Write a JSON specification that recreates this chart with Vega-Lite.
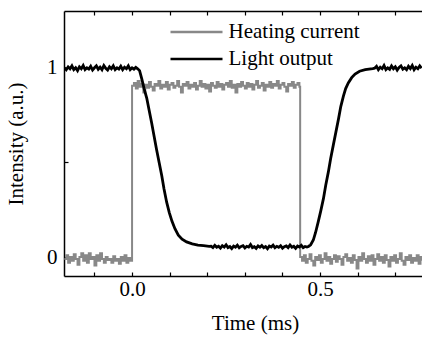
{
  "$schema": "https://vega.github.io/schema/vega-lite/v6.json",
  "autosize": {"type": "none"},
  "padding": {"left": 64, "top": 11, "right": 0, "bottom": 63},
  "width": 358,
  "height": 265,
  "background": "white",
  "config": {"view": {"stroke": null}, "font": "Liberation Serif"},
  "datasets": {
    "heat": [
      {"t":-0.18,"v":-0.01},{"t":-0.175,"v":0.01},{"t":-0.17,"v":-0.03},{"t":-0.165,"v":0.0},{"t":-0.16,"v":-0.02},{"t":-0.155,"v":0.015},{"t":-0.15,"v":-0.01},{"t":-0.145,"v":-0.04},{"t":-0.14,"v":0.0},{"t":-0.135,"v":0.02},{"t":-0.13,"v":-0.02},{"t":-0.125,"v":0.01},{"t":-0.12,"v":-0.03},{"t":-0.115,"v":0.02},{"t":-0.11,"v":-0.01},{"t":-0.105,"v":0.0},{"t":-0.1,"v":-0.045},{"t":-0.095,"v":0.01},{"t":-0.09,"v":-0.02},{"t":-0.085,"v":0.02},{"t":-0.08,"v":-0.01},{"t":-0.075,"v":-0.03},{"t":-0.07,"v":0.0},{"t":-0.065,"v":-0.015},{"t":-0.06,"v":-0.01},{"t":-0.055,"v":-0.03},{"t":-0.05,"v":0.005},{"t":-0.045,"v":-0.02},{"t":-0.04,"v":-0.01},{"t":-0.035,"v":-0.035},{"t":-0.03,"v":0.0},{"t":-0.025,"v":-0.02},{"t":-0.02,"v":0.01},{"t":-0.015,"v":-0.03},{"t":-0.01,"v":-0.005},{"t":-0.005,"v":-0.02},
      {"t":0.0,"v":0.905},{"t":0.005,"v":0.92},{"t":0.01,"v":0.89},{"t":0.015,"v":0.93},{"t":0.02,"v":0.9},{"t":0.025,"v":0.915},{"t":0.03,"v":0.87},{"t":0.035,"v":0.91},{"t":0.04,"v":0.895},{"t":0.045,"v":0.925},{"t":0.05,"v":0.9},{"t":0.055,"v":0.88},{"t":0.06,"v":0.915},{"t":0.065,"v":0.905},{"t":0.07,"v":0.93},{"t":0.075,"v":0.89},{"t":0.08,"v":0.91},{"t":0.085,"v":0.9},{"t":0.09,"v":0.925},{"t":0.095,"v":0.885},{"t":0.1,"v":0.91},{"t":0.105,"v":0.92},{"t":0.11,"v":0.895},{"t":0.115,"v":0.905},{"t":0.12,"v":0.93},{"t":0.125,"v":0.9},{"t":0.13,"v":0.87},{"t":0.135,"v":0.915},{"t":0.14,"v":0.905},{"t":0.145,"v":0.925},{"t":0.15,"v":0.89},{"t":0.155,"v":0.91},{"t":0.16,"v":0.9},{"t":0.165,"v":0.92},{"t":0.17,"v":0.885},{"t":0.175,"v":0.905},{"t":0.18,"v":0.93},{"t":0.185,"v":0.9},{"t":0.19,"v":0.915},{"t":0.195,"v":0.89},{"t":0.2,"v":0.91},{"t":0.205,"v":0.875},{"t":0.21,"v":0.92},{"t":0.215,"v":0.905},{"t":0.22,"v":0.895},{"t":0.225,"v":0.925},{"t":0.23,"v":0.9},{"t":0.235,"v":0.915},{"t":0.24,"v":0.885},{"t":0.245,"v":0.91},{"t":0.25,"v":0.92},{"t":0.255,"v":0.9},{"t":0.26,"v":0.93},{"t":0.265,"v":0.895},{"t":0.27,"v":0.91},{"t":0.275,"v":0.87},{"t":0.28,"v":0.915},{"t":0.285,"v":0.9},{"t":0.29,"v":0.925},{"t":0.295,"v":0.905},{"t":0.3,"v":0.89},{"t":0.305,"v":0.92},{"t":0.31,"v":0.9},{"t":0.315,"v":0.915},{"t":0.32,"v":0.885},{"t":0.325,"v":0.91},{"t":0.33,"v":0.93},{"t":0.335,"v":0.895},{"t":0.34,"v":0.905},{"t":0.345,"v":0.92},{"t":0.35,"v":0.88},{"t":0.355,"v":0.91},{"t":0.36,"v":0.9},{"t":0.365,"v":0.925},{"t":0.37,"v":0.895},{"t":0.375,"v":0.915},{"t":0.38,"v":0.905},{"t":0.385,"v":0.93},{"t":0.39,"v":0.89},{"t":0.395,"v":0.91},{"t":0.4,"v":0.92},{"t":0.405,"v":0.9},{"t":0.41,"v":0.875},{"t":0.415,"v":0.915},{"t":0.42,"v":0.905},{"t":0.425,"v":0.925},{"t":0.43,"v":0.895},{"t":0.435,"v":0.91},{"t":0.44,"v":0.92},{"t":0.445,"v":0.9},
      {"t":0.447,"v":0.0},{"t":0.452,"v":-0.02},{"t":0.457,"v":0.01},{"t":0.462,"v":-0.03},{"t":0.467,"v":-0.01},{"t":0.472,"v":0.015},{"t":0.477,"v":-0.02},{"t":0.482,"v":-0.045},{"t":0.487,"v":0.0},{"t":0.492,"v":-0.015},{"t":0.497,"v":0.01},{"t":0.502,"v":-0.03},{"t":0.507,"v":-0.01},{"t":0.512,"v":0.02},{"t":0.517,"v":-0.02},{"t":0.522,"v":0.0},{"t":0.527,"v":-0.035},{"t":0.532,"v":-0.01},{"t":0.537,"v":0.01},{"t":0.542,"v":-0.025},{"t":0.547,"v":0.005},{"t":0.552,"v":-0.01},{"t":0.557,"v":-0.04},{"t":0.562,"v":0.0},{"t":0.567,"v":0.015},{"t":0.572,"v":-0.02},{"t":0.577,"v":-0.005},{"t":0.582,"v":-0.03},{"t":0.587,"v":0.01},{"t":0.592,"v":-0.015},{"t":0.597,"v":-0.06},{"t":0.602,"v":0.0},{"t":0.607,"v":-0.02},{"t":0.612,"v":0.02},{"t":0.617,"v":-0.01},{"t":0.622,"v":-0.03},{"t":0.627,"v":0.005},{"t":0.632,"v":-0.02},{"t":0.637,"v":0.01},{"t":0.642,"v":-0.04},{"t":0.647,"v":-0.01},{"t":0.652,"v":0.015},{"t":0.657,"v":-0.02},{"t":0.662,"v":0.0},{"t":0.667,"v":-0.03},{"t":0.672,"v":0.01},{"t":0.677,"v":-0.015},{"t":0.682,"v":-0.05},{"t":0.687,"v":0.0},{"t":0.692,"v":-0.02},{"t":0.697,"v":0.01},{"t":0.702,"v":-0.03},{"t":0.707,"v":-0.01},{"t":0.712,"v":0.02},{"t":0.717,"v":-0.02},{"t":0.722,"v":-0.04},{"t":0.727,"v":0.0},{"t":0.732,"v":-0.015},{"t":0.737,"v":0.01},{"t":0.742,"v":-0.03},{"t":0.747,"v":-0.005},{"t":0.752,"v":-0.02},{"t":0.757,"v":0.01},{"t":0.762,"v":-0.035},{"t":0.767,"v":0.0},{"t":0.772,"v":-0.02}
    ],
    "light": [
      {"t":-0.18,"v":1.0},{"t":-0.175,"v":0.99},{"t":-0.17,"v":1.005},{"t":-0.165,"v":0.995},{"t":-0.16,"v":1.01},{"t":-0.155,"v":0.99},{"t":-0.15,"v":1.0},{"t":-0.145,"v":0.985},{"t":-0.14,"v":1.005},{"t":-0.135,"v":0.995},{"t":-0.13,"v":1.012},{"t":-0.125,"v":0.99},{"t":-0.12,"v":1.0},{"t":-0.115,"v":0.993},{"t":-0.11,"v":1.008},{"t":-0.105,"v":0.988},{"t":-0.1,"v":1.0},{"t":-0.095,"v":1.01},{"t":-0.09,"v":0.992},{"t":-0.085,"v":1.003},{"t":-0.08,"v":0.99},{"t":-0.075,"v":1.012},{"t":-0.07,"v":0.997},{"t":-0.065,"v":0.988},{"t":-0.06,"v":1.005},{"t":-0.055,"v":0.995},{"t":-0.05,"v":1.01},{"t":-0.045,"v":0.99},{"t":-0.04,"v":1.0},{"t":-0.035,"v":0.993},{"t":-0.03,"v":1.008},{"t":-0.025,"v":0.99},{"t":-0.02,"v":1.003},{"t":-0.015,"v":0.995},{"t":-0.01,"v":1.01},{"t":-0.005,"v":0.99},{"t":0.0,"v":1.0},{"t":0.005,"v":0.993},{"t":0.01,"v":1.002},
      {"t":0.015,"v":0.995},{"t":0.02,"v":0.985},{"t":0.026,"v":0.94},{"t":0.032,"v":0.89},{"t":0.039,"v":0.84},{"t":0.045,"v":0.78},{"t":0.052,"v":0.71},{"t":0.058,"v":0.645},{"t":0.065,"v":0.57},{"t":0.072,"v":0.5},{"t":0.079,"v":0.43},{"t":0.085,"v":0.36},{"t":0.092,"v":0.29},{"t":0.099,"v":0.235},{"t":0.106,"v":0.19},{"t":0.114,"v":0.15},{"t":0.123,"v":0.116},{"t":0.133,"v":0.095},{"t":0.145,"v":0.08},{"t":0.16,"v":0.07},{"t":0.175,"v":0.063},{"t":0.19,"v":0.06},{"t":0.205,"v":0.057},
      {"t":0.21,"v":0.058},{"t":0.215,"v":0.05},{"t":0.22,"v":0.062},{"t":0.225,"v":0.052},{"t":0.23,"v":0.057},{"t":0.235,"v":0.047},{"t":0.24,"v":0.06},{"t":0.245,"v":0.053},{"t":0.25,"v":0.065},{"t":0.255,"v":0.05},{"t":0.26,"v":0.056},{"t":0.265,"v":0.045},{"t":0.27,"v":0.058},{"t":0.275,"v":0.052},{"t":0.28,"v":0.063},{"t":0.285,"v":0.049},{"t":0.29,"v":0.056},{"t":0.295,"v":0.06},{"t":0.3,"v":0.048},{"t":0.305,"v":0.057},{"t":0.31,"v":0.053},{"t":0.315,"v":0.066},{"t":0.32,"v":0.05},{"t":0.325,"v":0.055},{"t":0.33,"v":0.046},{"t":0.335,"v":0.059},{"t":0.34,"v":0.052},{"t":0.345,"v":0.061},{"t":0.35,"v":0.05},{"t":0.355,"v":0.056},{"t":0.36,"v":0.044},{"t":0.365,"v":0.058},{"t":0.37,"v":0.053},{"t":0.375,"v":0.063},{"t":0.38,"v":0.049},{"t":0.385,"v":0.057},{"t":0.39,"v":0.052},{"t":0.395,"v":0.06},{"t":0.4,"v":0.047},{"t":0.405,"v":0.055},{"t":0.41,"v":0.059},{"t":0.415,"v":0.05},{"t":0.42,"v":0.064},{"t":0.425,"v":0.052},{"t":0.43,"v":0.057},{"t":0.435,"v":0.046},{"t":0.44,"v":0.058},{"t":0.445,"v":0.053},{"t":0.45,"v":0.062},{"t":0.455,"v":0.05},{"t":0.46,"v":0.056},{"t":0.465,"v":0.053},
      {"t":0.469,"v":0.056},{"t":0.475,"v":0.065},{"t":0.482,"v":0.09},{"t":0.488,"v":0.13},{"t":0.495,"v":0.186},{"t":0.502,"v":0.245},{"t":0.509,"v":0.31},{"t":0.515,"v":0.38},{"t":0.522,"v":0.45},{"t":0.528,"v":0.52},{"t":0.535,"v":0.59},{"t":0.542,"v":0.66},{"t":0.549,"v":0.73},{"t":0.555,"v":0.795},{"t":0.562,"v":0.85},{"t":0.568,"v":0.89},{"t":0.575,"v":0.92},{"t":0.584,"v":0.948},{"t":0.593,"v":0.967},{"t":0.605,"v":0.982},{"t":0.62,"v":0.99},{"t":0.64,"v":0.996},
      {"t":0.645,"v":0.998},{"t":0.65,"v":1.008},{"t":0.655,"v":0.99},{"t":0.66,"v":1.003},{"t":0.665,"v":0.995},{"t":0.67,"v":1.012},{"t":0.675,"v":0.99},{"t":0.68,"v":1.0},{"t":0.685,"v":0.992},{"t":0.69,"v":1.01},{"t":0.695,"v":0.995},{"t":0.7,"v":1.005},{"t":0.705,"v":0.988},{"t":0.71,"v":1.002},{"t":0.715,"v":1.01},{"t":0.72,"v":0.993},{"t":0.725,"v":1.0},{"t":0.73,"v":0.99},{"t":0.735,"v":1.008},{"t":0.74,"v":0.996},{"t":0.745,"v":1.012},{"t":0.75,"v":0.99},{"t":0.755,"v":1.003},{"t":0.76,"v":0.995},{"t":0.765,"v":1.01},{"t":0.77,"v":0.998}
    ]
  },
  "resolve": {"axis": {"x": "independent"}},
  "layer": [
    {
      "data": {"name": "heat"},
      "mark": {"type": "line", "interpolate": "step-after", "strokeWidth": 2, "clip": true},
      "encoding": {
        "x": {
          "field": "t", "type": "quantitative",
          "scale": {"domain": [-0.181, 0.771], "nice": false, "zero": false},
          "axis": {
            "orient": "bottom", "values": [-0.1, 0, 0.1, 0.2, 0.3, 0.4, 0.5, 0.6, 0.7],
            "labelExpr": "datum.value == 0 || datum.value == 0.5 ? format(datum.value, '.1f') : ''",
            "labelOverlap": false, "grid": false,
            "tickSize": -4, "tickColor": "black", "tickWidth": 1.2,
            "domainColor": "black", "domainWidth": 1.5,
            "labelFont": "Liberation Serif", "labelFontSize": 21, "labelColor": "black", "labelPadding": 6,
            "title": "Time (ms)", "titleFont": "Liberation Serif", "titleFontSize": 21, "titleFontWeight": "normal", "titleColor": "black", "titlePadding": 13, "titleX": 191
          }
        },
        "y": {
          "field": "v", "type": "quantitative",
          "scale": {"domain": [-0.1, 1.3], "nice": false, "zero": false},
          "axis": {
            "values": [0, 0.5, 1],
            "labelExpr": "datum.value == 0.5 ? '' : format(datum.value, 'd')",
            "labelOverlap": false, "grid": false,
            "tickSize": -4, "tickColor": "black", "tickWidth": 1.2,
            "domainColor": "black", "domainWidth": 1.5,
            "labelFont": "Liberation Serif", "labelFontSize": 21, "labelColor": "black", "labelPadding": 11,
            "title": "Intensity (a.u.)", "titleFont": "Liberation Serif", "titleFontSize": 21, "titleFontWeight": "normal", "titleColor": "black", "titlePadding": 20
          }
        },
        "color": {
          "datum": "Heating current",
          "scale": {"domain": ["Heating current", "Light output"], "range": ["#888888", "#000000"]},
          "legend": {
            "orient": "none", "legendX": 122, "legendY": 10.5, "title": null,
            "symbolType": "M-4,0H4", "symbolSize": 169, "symbolStrokeWidth": 2.5,
            "labelFont": "Liberation Serif", "labelFontSize": 21, "labelColor": "black",
            "labelOffset": 21.5, "rowPadding": 5, "padding": 0, "direction": "vertical"
          }
        }
      }
    },
    {
      "data": {"name": "light"},
      "mark": {"type": "line", "strokeWidth": 2.8, "clip": true},
      "encoding": {
        "x": {
          "field": "t", "type": "quantitative",
          "axis": {
            "orient": "top", "values": [-0.1, 0, 0.1, 0.2, 0.3, 0.4, 0.5, 0.6, 0.7],
            "labels": false, "title": null, "grid": false,
            "tickSize": -4, "tickColor": "black", "tickWidth": 1.2,
            "domainColor": "black", "domainWidth": 1.5
          }
        },
        "y": {
          "field": "v", "type": "quantitative",
          "axis": {
            "values": [0, 0.5, 1],
            "labelExpr": "datum.value == 0.5 ? '' : format(datum.value, 'd')",
            "labelOverlap": false, "grid": false,
            "tickSize": -4, "tickColor": "black", "tickWidth": 1.2,
            "domainColor": "black", "domainWidth": 1.5,
            "labelFont": "Liberation Serif", "labelFontSize": 21, "labelColor": "black", "labelPadding": 11,
            "title": "Intensity (a.u.)", "titleFont": "Liberation Serif", "titleFontSize": 21, "titleFontWeight": "normal", "titleColor": "black", "titlePadding": 20
          }
        },
        "color": {"datum": "Light output"}
      }
    }
  ]
}
